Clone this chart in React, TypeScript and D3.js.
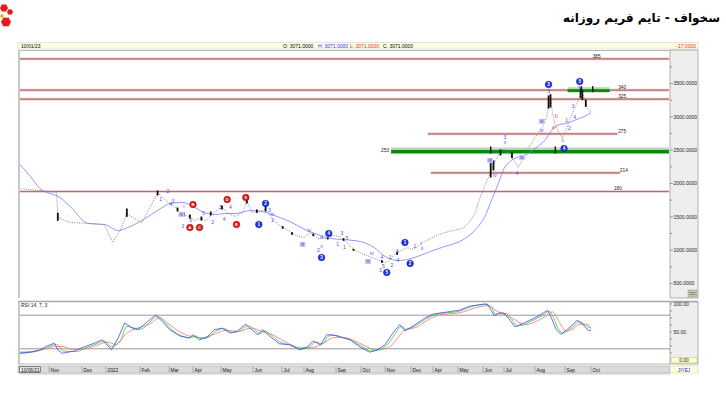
import React from "react";
import * as d3 from "d3";

const parse = d3.timeParse("%Y-%m-%d") as (s: string) => Date;

// trading calendar: month starts (Jan-Mar 2023 the symbol was halted)
const calendarDates = ["2021-10-06", "2021-11-01", "2021-12-01", "2022-01-01", "2022-02-01", "2022-03-01", "2022-04-01", "2022-05-01", "2022-06-01", "2022-07-01", "2022-08-01", "2022-09-01", "2022-10-01", "2022-11-01", "2022-12-01", "2023-04-01", "2023-05-01", "2023-06-01", "2023-07-01", "2023-08-01", "2023-09-01", "2023-10-01", "2024-01-01"];
const calendarX = [19, 49, 82, 106, 140, 169, 193, 221, 253, 282, 304, 336, 361, 385, 411, 433, 458, 483, 504, 535, 565, 591, 669];
const tickLabels = ["Nov", "Dec", "2022", "Feb", "Mar", "Apr", "May", "Jun", "Jul", "Aug", "Sep", "Oct", "Nov", "Dec", "Apr", "May", "Jun", "Jul", "Aug", "Sep", "Oct"];

const priceTicks = [500, 1000, 1500, 2000, 2500, 3000, 3500];
const rsiTicks = [0, 50, 100];
const rsiLevels = [20, 80];

const closes: [string, number][] = [
  ["2021-10-06", 1925], ["2021-10-24", 1895], ["2021-11-08", 1865], ["2021-11-09", 1490], ["2021-11-20", 1415],
  ["2021-12-11", 1400], ["2021-12-30", 1385], ["2022-01-07", 1115], ["2022-01-14", 1295], ["2022-01-20", 1550],
  ["2022-01-27", 1475], ["2022-02-03", 1415], ["2022-02-11", 1655], ["2022-02-18", 1865], ["2022-02-24", 1775],
  ["2022-03-02", 1700], ["2022-03-11", 1625], ["2022-03-19", 1535], ["2022-03-27", 1505], ["2022-04-03", 1445],
  ["2022-04-08", 1475], ["2022-04-15", 1445], ["2022-04-22", 1550], ["2022-05-02", 1640], ["2022-05-08", 1550],
  ["2022-05-15", 1505], ["2022-05-22", 1565], ["2022-05-26", 1745], ["2022-05-31", 1565], ["2022-06-07", 1580],
  ["2022-06-14", 1610], ["2022-06-20", 1490], ["2022-06-27", 1385], ["2022-07-08", 1310], ["2022-07-20", 1220],
  ["2022-08-01", 1190], ["2022-08-07", 1265], ["2022-08-14", 1175], ["2022-08-22", 1175], ["2022-08-29", 1220],
  ["2022-09-06", 1205], ["2022-09-15", 1100], ["2022-09-24", 995], ["2022-10-02", 950], ["2022-10-12", 905],
  ["2022-10-22", 860], ["2022-11-01", 815], ["2022-11-06", 845], ["2022-11-13", 950], ["2022-11-20", 995],
  ["2022-11-27", 1040], ["2022-12-01", 1010], ["2023-01-01", 1040], ["2023-02-04", 1115], ["2023-04-01", 1190],
  ["2023-04-08", 1235], ["2023-04-20", 1280], ["2023-05-06", 1325], ["2023-05-15", 1415], ["2023-05-22", 1550],
  ["2023-05-27", 1745], ["2023-06-03", 1955], ["2023-06-10", 2120], ["2023-06-13", 2225], ["2023-06-17", 2300],
  ["2023-06-24", 2450], ["2023-07-01", 2525], ["2023-07-07", 2420], ["2023-07-11", 2345], ["2023-07-15", 2240],
  ["2023-07-19", 2345], ["2023-07-24", 2495], ["2023-08-01", 2690], ["2023-08-08", 2825], ["2023-08-13", 2990],
  ["2023-08-16", 3245], ["2023-08-17", 3320], ["2023-08-19", 3065], ["2023-08-22", 2870], ["2023-08-26", 2765],
  ["2023-08-29", 2675], ["2023-09-03", 2825], ["2023-09-06", 2945], ["2023-09-11", 3095], ["2023-09-16", 3245],
  ["2023-09-20", 3395], ["2023-09-24", 3245], ["2023-09-27", 3125], ["2023-10-01", 3071],
];

const movingAvg: [string, number][] = [
  ["2021-10-06", 2300], ["2021-10-16", 2105], ["2021-10-24", 1925], ["2021-11-02", 1850], ["2021-11-09", 1810],
  ["2021-11-20", 1660], ["2021-12-09", 1400], ["2021-12-30", 1385], ["2022-01-12", 1295], ["2022-01-23", 1355],
  ["2022-02-06", 1475], ["2022-02-21", 1625], ["2022-03-02", 1700], ["2022-03-19", 1715], ["2022-04-03", 1640],
  ["2022-04-13", 1565], ["2022-04-25", 1535], ["2022-05-05", 1550], ["2022-05-15", 1550], ["2022-05-29", 1595],
  ["2022-06-10", 1580], ["2022-06-23", 1520], ["2022-07-12", 1430], ["2022-08-02", 1310], ["2022-08-14", 1235],
  ["2022-08-27", 1175], ["2022-09-08", 1160], ["2022-09-30", 1130], ["2022-10-16", 1055], ["2022-11-03", 890],
  ["2022-11-16", 845], ["2022-12-01", 875], ["2023-01-20", 920], ["2023-04-01", 995], ["2023-04-15", 1055],
  ["2023-05-03", 1130], ["2023-05-15", 1220], ["2023-05-25", 1340], ["2023-06-03", 1490], ["2023-06-13", 1745],
  ["2023-06-24", 2030], ["2023-07-01", 2225], ["2023-07-07", 2330], ["2023-07-14", 2390], ["2023-07-22", 2420],
  ["2023-08-01", 2525], ["2023-08-11", 2645], ["2023-08-19", 2810], ["2023-08-24", 2870], ["2023-09-06", 2915],
  ["2023-09-17", 2975], ["2023-09-26", 3020], ["2023-10-01", 3065],
];

// [date, high, low]
const candles: [string, number, number][] = [
  ["2021-11-09", 1560, 1440], ["2022-01-20", 1625, 1500], ["2022-02-18", 1895, 1820], ["2022-03-12", 1640, 1580],
  ["2022-03-20", 1570, 1505], ["2022-03-28", 1535, 1475], ["2022-04-10", 1505, 1445], ["2022-04-20", 1580, 1520],
  ["2022-05-02", 1670, 1610], ["2022-05-26", 1800, 1700], ["2022-06-05", 1610, 1560], ["2022-06-14", 1670, 1580],
  ["2022-07-02", 1360, 1320], ["2022-07-15", 1270, 1230], ["2022-08-10", 1250, 1210], ["2022-08-24", 1190, 1160],
  ["2022-09-10", 1180, 1140], ["2022-09-22", 1020, 990], ["2022-10-28", 850, 810], ["2022-11-15", 980, 930],
  ["2023-06-12", 2310, 2090], ["2023-06-16", 2345, 2195], ["2023-06-26", 2510, 2420], ["2023-07-09", 2470, 2380],
  ["2023-08-15", 3320, 3125], ["2023-08-17", 3340, 3140], ["2023-09-19", 3430, 3280], ["2023-09-21", 3400, 3250],
  ["2023-09-25", 3260, 3150],
];

const levelValues = [3870, 3400, 3265, 2745, 2160, 1880];
const levelLabels = ["385", "340", "325", "275", "214", "180"];
const levelStart = ["2021-10-06", "2021-10-06", "2021-10-06", "2023-03-04", "2023-03-20", "2021-10-06"];
const levelEnd = ["2024-01-01", "2024-01-01", "2024-01-01", "2023-11-01", "2023-11-04", "2024-01-01"];
const levelLabelDates = ["2023-10-03", "2023-11-02", "2023-11-02", "2023-11-02", "2023-11-04", "2023-10-28"];

// support / resistance zones: [low, high]
const zoneRanges: [number, number][] = [[2450, 2540], [3370, 3445]];
const zoneStart = ["2022-11-08", "2023-09-04"];
const zoneEnd = ["2024-01-01", "2023-10-23"];
const zoneLabels = ["250", ""];
const zoneMarks = [["2023-06-12", "2023-08-22"], ["2023-09-20", "2023-10-03"]];

const blueCircles: [string, number, string][] = [
  ["2022-06-07", 1385, "1"], ["2022-06-14", 1700, "2"], ["2022-08-18", 890, "3"], ["2022-08-25", 1250, "4"],
  ["2022-11-03", 665, "5"], ["2022-11-24", 1115, "1"], ["2022-11-30", 800, "2"], ["2023-08-15", 3485, "3"],
  ["2023-08-31", 2525, "4"], ["2023-09-18", 3530, "5"],
];
const redCircles: [string, number, string][] = [
  ["2022-03-28", 1340, "A"], ["2022-04-01", 1685, "B"], ["2022-04-08", 1340, "C"], ["2022-05-07", 1760, "D"],
  ["2022-05-16", 1385, "E"], ["2022-05-25", 1790, "X"],
];
const waveLabels: [string, number, string][] = [
  ["2022-02-28", 1880, "2"], ["2022-02-21", 1760, "1"], ["2022-03-03", 1685, "4"], ["2022-03-06", 1730, "3"],
  ["2022-03-20", 1655, "i"], ["2022-03-19", 1355, "3"], ["2022-03-29", 1445, "5"], ["2022-04-12", 1550, "5"],
  ["2022-04-22", 1415, "2"], ["2022-04-30", 1640, "3"], ["2022-05-10", 1650, "4"], ["2022-05-04", 1460, "4"],
  ["2022-06-18", 1595, "3"], ["2022-06-21", 1535, "iv"], ["2022-06-21", 1445, "1"], ["2022-08-06", 1295, "iv"],
  ["2022-08-18", 1190, "4"], ["2022-08-18", 1055, "v"], ["2022-08-15", 995, "2"], ["2022-09-08", 1250, "3"],
  ["2022-09-03", 1085, "1"], ["2022-09-14", 1175, "5"], ["2022-09-11", 1040, "1"], ["2022-10-15", 950, "iv"],
  ["2022-10-26", 695, "3"], ["2022-10-28", 890, "4"], ["2022-10-30", 760, "5"], ["2022-11-07", 890, "1"],
  ["2022-11-09", 770, "2"], ["2022-11-15", 980, "3"], ["2022-11-16", 845, "4"], ["2022-12-23", 1055, "1"],
  ["2023-01-25", 1100, "i"], ["2023-01-31", 1025, "ii"], ["2023-06-18", 2120, "iv"], ["2023-07-02", 2690, "3"],
  ["2023-07-02", 2615, "v"], ["2023-07-14", 2150, "4"], ["2023-08-08", 2795, "iv"], ["2023-08-15", 3380, "3"],
  ["2023-09-03", 2945, "1"], ["2023-09-06", 2825, "2"], ["2023-09-10", 3155, "3"], ["2023-09-12", 2990, "4"],
  ["2023-09-18", 3425, "5"],
];
const boxedLabels: [string, number, string][] = [
  ["2022-03-17", 1535, "iii"], ["2022-07-30", 1085, "iii"], ["2022-10-10", 830, "iii"], ["2023-06-11", 2345, "iii"],
  ["2023-07-19", 2390, "iv"], ["2023-08-08", 2930, "iii"],
];
const redLetters: [string, number, string][] = [
  ["2023-08-20", 2840, "a"], ["2023-08-23", 3005, "b"], ["2023-08-30", 2645, "c"],
];

const rsiMain: [string, number][] = [
  ["2021-10-06", 12], ["2021-10-16", 14], ["2021-10-24", 18], ["2021-10-30", 25], ["2021-11-06", 30], ["2021-11-09", 18],
  ["2021-11-13", 12], ["2021-11-24", 16], ["2021-12-03", 23], ["2021-12-17", 30], ["2021-12-27", 36], ["2022-01-02", 27],
  ["2022-01-06", 18], ["2022-01-12", 39], ["2022-01-18", 66], ["2022-01-25", 57], ["2022-01-30", 54], ["2022-02-08", 68],
  ["2022-02-16", 80], ["2022-02-23", 68], ["2022-03-02", 54], ["2022-03-15", 43], ["2022-03-27", 39], ["2022-04-01", 45],
  ["2022-04-08", 36], ["2022-04-16", 41], ["2022-04-24", 54], ["2022-05-02", 57], ["2022-05-10", 48], ["2022-05-17", 52],
  ["2022-05-25", 64], ["2022-05-29", 57], ["2022-06-06", 45], ["2022-06-11", 54], ["2022-06-16", 46], ["2022-06-28", 29],
  ["2022-07-12", 27], ["2022-07-26", 18], ["2022-08-04", 23], ["2022-08-10", 34], ["2022-08-17", 27], ["2022-08-23", 45],
  ["2022-08-29", 45], ["2022-09-06", 41], ["2022-09-18", 36], ["2022-09-30", 23], ["2022-10-12", 14], ["2022-10-22", 18],
  ["2022-11-01", 27], ["2022-11-10", 48], ["2022-11-18", 63], ["2022-11-24", 52], ["2022-12-23", 63], ["2023-02-16", 75],
  ["2023-04-01", 82], ["2023-05-03", 89], ["2023-05-15", 96], ["2023-06-03", 100], ["2023-06-07", 100], ["2023-06-13", 88],
  ["2023-06-17", 79], ["2023-06-24", 84], ["2023-07-01", 84], ["2023-07-07", 71], ["2023-07-12", 59], ["2023-07-17", 63],
  ["2023-07-27", 71], ["2023-08-06", 80], ["2023-08-14", 89], ["2023-08-18", 75], ["2023-08-23", 54], ["2023-08-28", 46],
  ["2023-09-03", 54], ["2023-09-10", 63], ["2023-09-15", 71], ["2023-09-22", 63], ["2023-09-27", 54], ["2023-10-01", 52],
];
const rsiSignal7: [string, number][] = [
  ["2021-10-06", 12], ["2021-10-20", 15], ["2021-10-30", 22], ["2021-11-08", 28], ["2021-11-14", 16], ["2021-11-26", 15],
  ["2021-12-06", 22], ["2021-12-20", 29], ["2021-12-30", 34], ["2022-01-06", 24], ["2022-01-14", 34], ["2022-01-20", 60],
  ["2022-01-27", 57], ["2022-02-02", 55], ["2022-02-10", 67], ["2022-02-18", 78], ["2022-02-25", 67], ["2022-03-04", 55],
  ["2022-03-17", 43], ["2022-03-29", 40], ["2022-04-03", 43], ["2022-04-10", 38], ["2022-04-18", 41], ["2022-04-26", 52],
  ["2022-05-04", 56], ["2022-05-12", 49], ["2022-05-19", 52], ["2022-05-27", 61], ["2022-06-01", 57], ["2022-06-08", 47],
  ["2022-06-13", 52], ["2022-06-18", 47], ["2022-06-30", 31], ["2022-07-14", 27], ["2022-07-28", 20], ["2022-08-06", 23],
  ["2022-08-12", 32], ["2022-08-19", 29], ["2022-08-25", 43], ["2022-08-31", 44], ["2022-09-08", 41], ["2022-09-20", 35],
  ["2022-10-02", 24], ["2022-10-14", 16], ["2022-10-24", 18], ["2022-11-03", 26], ["2022-11-12", 45], ["2022-11-20", 60],
  ["2022-11-26", 54], ["2022-12-25", 61], ["2023-02-20", 73], ["2023-04-03", 81], ["2023-05-05", 88], ["2023-05-17", 95],
  ["2023-06-05", 99], ["2023-06-12", 96], ["2023-06-19", 82], ["2023-06-26", 83], ["2023-07-03", 83], ["2023-07-09", 72],
  ["2023-07-14", 61], ["2023-07-19", 62], ["2023-07-29", 70], ["2023-08-08", 79], ["2023-08-16", 87], ["2023-08-20", 76],
  ["2023-08-25", 56], ["2023-08-30", 48], ["2023-09-05", 53], ["2023-09-12", 62], ["2023-09-17", 69], ["2023-09-24", 63],
  ["2023-10-01", 56],
];
const rsiSignal3: [string, number][] = [
  ["2021-10-06", 14], ["2021-10-24", 17], ["2021-11-06", 24], ["2021-11-14", 24], ["2021-11-22", 19], ["2021-12-05", 20],
  ["2021-12-20", 26], ["2022-01-02", 32], ["2022-01-10", 28], ["2022-01-20", 48], ["2022-01-30", 57], ["2022-02-10", 64],
  ["2022-02-20", 75], ["2022-03-01", 64], ["2022-03-15", 50], ["2022-03-30", 42], ["2022-04-12", 40], ["2022-04-25", 47],
  ["2022-05-06", 53], ["2022-05-18", 51], ["2022-05-30", 57], ["2022-06-10", 51], ["2022-06-20", 46], ["2022-07-05", 33],
  ["2022-07-25", 22], ["2022-08-08", 22], ["2022-08-20", 30], ["2022-08-30", 40], ["2022-09-10", 40], ["2022-09-22", 35],
  ["2022-10-05", 26], ["2022-10-20", 18], ["2022-11-05", 22], ["2022-11-15", 38], ["2022-11-25", 55], ["2022-12-28", 58],
  ["2023-02-25", 70], ["2023-04-05", 79], ["2023-05-08", 86], ["2023-05-20", 92], ["2023-06-08", 97], ["2023-06-20", 88],
  ["2023-06-30", 82], ["2023-07-12", 72], ["2023-07-22", 63], ["2023-08-01", 68], ["2023-08-12", 78], ["2023-08-19", 86],
  ["2023-08-26", 68], ["2023-09-02", 52], ["2023-09-10", 55], ["2023-09-18", 64], ["2023-09-25", 64], ["2023-10-01", 58],
];

const FONT = "Liberation Sans, Arial, sans-serif";

export default function App() {
  const x = d3.scaleTime().domain(calendarDates.map(parse)).range(calendarX);
  const y = d3.scaleLinear().domain([500, 3500]).range([283.5, 83.5]);
  const yr = d3.scaleLinear().domain([0, 100]).range([360, 304]);
  const xd = (s: string) => x(parse(s));

  const priceLine = d3.line<[string, number]>().x((d) => xd(d[0])).y((d) => y(d[1]));
  const maLine = d3.line<[string, number]>().x((d) => xd(d[0])).y((d) => y(d[1])).curve(d3.curveMonotoneX);
  const rsiLine = d3.line<[string, number]>().x((d) => xd(d[0])).y((d) => yr(d[1]));
  const rsiSmooth = d3.line<[string, number]>().x((d) => xd(d[0])).y((d) => yr(d[1])).curve(d3.curveMonotoneX);

  const minorTicks = d3.range(500, 3751, 250);
  const tickDates = calendarDates.slice(1, 22);

  const hex = (cx: number, cy: number, r: number) =>
    d3.range(6).map((i) => {
      const a = (Math.PI / 3) * i;
      return `${cx + r * Math.cos(a)},${cy + r * Math.sin(a)}`;
    }).join(" ");

  return (
    <div style={{ position: "fixed", left: 0, top: 0 }}>
      <svg width={726} height={398} style={{ display: "block", background: "#fff" }} fontFamily={FONT}>
        <defs>
          <clipPath id="mainClip"><rect x={20} y={51} width={650} height={247} /></clipPath>
          <clipPath id="rsiClip"><rect x={20} y={302} width={650} height={62} /></clipPath>
        </defs>

        {/* logo */}
        <g>
          <polygon points={hex(4, 8, 4.5)} fill="#e41b1b" stroke="#fff" strokeWidth={0.8} />
          <polygon points={hex(10, 12, 3.5)} fill="#e41b1b" stroke="#fff" strokeWidth={0.8} />
          <polygon points={hex(6, 22, 5.5)} fill="#e41b1b" stroke="#fff" strokeWidth={0.8} />
          <circle cx={2} cy={16} r={1.8} fill="#f5a623" />
        </g>
        <text x={720} y={22} textAnchor="end" fontSize={12} fontWeight="bold" fontFamily="DejaVu Sans, sans-serif">
          سخواف - تایم فریم روزانه
        </text>

        {/* info bar */}
        <rect x={18} y={42.5} width={680} height={6.5} fill="#ffffe4" stroke="#c8c8c8" strokeWidth={0.5} />
        <g fontSize={5}>
          <text x={21} y={47.6}>10/01/23</text>
          <text x={283} y={47.6}>O: 3071.0000</text>
          <text x={318} y={47.6} fill="#3030ff">H: 3071.0000</text>
          <text x={350} y={47.6} fill="#ff2020">L: 3071.0000</text>
          <text x={383} y={47.6}>C: 3071.0000</text>
          <text x={696} y={47.6} fill="#ff2020" textAnchor="end">-17.0000</text>
        </g>

        {/* main panel frame */}
        <line x1={18} x2={670} y1={50.5} y2={50.5} stroke="#b8b8b8" strokeWidth={1} />
        <rect x={18} y={50} width={2} height={248} fill="#c8c8c8" />
        <rect x={670} y={50} width={28} height={248} fill="#eeeeee" stroke="#a0a0a0" strokeWidth={0.8} />
        {minorTicks.map((v) => (
          <line key={"mt" + v} x1={670} x2={v % 500 === 0 ? 673 : 672} y1={y(v)} y2={y(v)} stroke="#606060" strokeWidth={0.6} />
        ))}
        {priceTicks.map((v) => (
          <text key={"pt" + v} x={673.5} y={y(v) + 1.8} fontSize={5} fill="#222">{v.toFixed(4)}</text>
        ))}
        <rect x={688} y={290} width={9} height={7} fill="#c8c8b0" stroke="#909080" strokeWidth={0.5} />
        <line x1={689.5} x2={695.5} y1={292.5} y2={292.5} stroke="#555" strokeWidth={0.6} />
        <line x1={689.5} x2={695.5} y1={294.5} y2={294.5} stroke="#555" strokeWidth={0.6} />

        <g clipPath="url(#mainClip)">
          {/* levels */}
          {levelValues.map((v, i) => (
            <g key={"l" + i}>
              <line x1={xd(levelStart[i])} x2={xd(levelEnd[i])} y1={y(v)} y2={y(v)} stroke="#e8c8c8" strokeWidth={2.6} />
              <line x1={xd(levelStart[i])} x2={xd(levelEnd[i])} y1={y(v)} y2={y(v)} stroke="#b86a6a" strokeWidth={1.2} />
            </g>
          ))}
          {/* zones */}
          {zoneRanges.map((r, i) => {
            const x0 = xd(zoneStart[i]);
            const x1 = xd(zoneEnd[i]);
            const mid = y((r[0] + r[1]) / 2 + (r[1] - r[0]) * 0.1);
            return (
              <g key={"z" + i}>
                <rect x={x0} y={y(r[1])} width={x1 - x0} height={mid - y(r[1])} fill="#b6dcb6" />
                <rect x={x0} y={mid} width={x1 - x0} height={y(r[0]) - mid} fill="#0a8a0a" />
                {zoneMarks[i].map((d) => (
                  <rect key={d} x={xd(d) - 0.7} y={y(r[1]) - 1} width={1.4} height={y(r[0]) - y(r[1]) + 1} fill="#111" />
                ))}
              </g>
            );
          })}

          {/* price */}
          <path d={maLine(movingAvg) || ""} fill="none" stroke="#7a7aff" strokeWidth={0.8} />
          <path d={priceLine(closes) || ""} fill="none" stroke="#8a8a8a" strokeWidth={1} strokeDasharray="1,1.3" />
          {candles.map((c, i) => (
            <rect key={"c" + i} x={xd(c[0]) - 0.9} y={y(c[1])} width={1.8} height={y(c[2]) - y(c[1])} fill="#111" />
          ))}

          {/* wave counts */}
          {waveLabels.map((w, i) => (
            <text key={"w" + i} x={xd(w[0])} y={y(w[1]) + 1.8} fontSize={5} fill="#4a4aff" textAnchor="middle">{w[2]}</text>
          ))}
          {boxedLabels.map((w, i) => (
            <g key={"b" + i}>
              <rect x={xd(w[0]) - 3} y={y(w[1]) - 2.5} width={6} height={5} fill="#c9c9ff" />
              <text x={xd(w[0])} y={y(w[1]) + 1.8} fontSize={4.6} fill="#3a3ad8" textAnchor="middle">{w[2]}</text>
            </g>
          ))}
          {redLetters.map((w, i) => (
            <text key={"r" + i} x={xd(w[0])} y={y(w[1]) + 1.8} fontSize={5} fill="#ff3a3a" textAnchor="middle">{w[2]}</text>
          ))}
          {blueCircles.map((w, i) => (
            <g key={"bc" + i}>
              <circle cx={xd(w[0])} cy={y(w[1])} r={3.3} fill="#1c34e0" stroke="#0a1a90" strokeWidth={0.5} />
              <text x={xd(w[0])} y={y(w[1]) + 1.7} fontSize={4.6} fontWeight="bold" fill="#fff" textAnchor="middle">{w[2]}</text>
            </g>
          ))}
          {redCircles.map((w, i) => (
            <g key={"rc" + i}>
              <circle cx={xd(w[0])} cy={y(w[1])} r={3.3} fill="#e81010" stroke="#900" strokeWidth={0.5} />
              <text x={xd(w[0])} y={y(w[1]) + 1.7} fontSize={4.4} fontWeight="bold" fill="#fff" textAnchor="middle">{w[2]}</text>
            </g>
          ))}
        </g>

        {/* level labels (drawn over the lines) */}
        {levelValues.map((v, i) => (
          <text key={"ll" + i} x={xd(levelLabelDates[i])} y={y(v) - 1.2} fontSize={4.8} fill="#222">{levelLabels[i]}</text>
        ))}
        {zoneRanges.map((r, i) =>
          zoneLabels[i] ? (
            <text key={"zl" + i} x={xd(zoneStart[i]) - 2} y={y((r[0] + r[1]) / 2) + 1.7} fontSize={4.8} fill="#222" textAnchor="end">{zoneLabels[i]}</text>
          ) : null
        )}

        {/* RSI panel */}
        <line x1={18} x2={698} y1={301.5} y2={301.5} stroke="#a8a8a8" strokeWidth={1.4} />
        <rect x={18} y={302} width={2} height={62} fill="#c8c8c8" />
        <line x1={18} x2={670} y1={364} y2={364} stroke="#b8b8b8" strokeWidth={1} />
        <text x={21} y={306.5} fontSize={5} fill="#222">RSI 14, 7, 3</text>
        <rect x={670} y={302} width={28} height={62} fill="#eeeeee" stroke="#a0a0a0" strokeWidth={0.8} />
        {d3.range(0, 101, 12.5).map((v) => (
          <line key={"rm" + v} x1={670} x2={672} y1={yr(v)} y2={yr(v)} stroke="#606060" strokeWidth={0.6} />
        ))}
        {rsiTicks.filter((v) => v > 0).map((v) => (
          <text key={"rt" + v} x={673.5} y={yr(v) + 1.8} fontSize={5} fill="#222">{v.toFixed(2)}</text>
        ))}
        <rect x={671} y={357.5} width={26} height={5.5} fill="#ffffc8" stroke="#b8b890" strokeWidth={0.5} />
        <text x={684} y={362} fontSize={5} textAnchor="middle" fill="#222">{rsiTicks[0].toFixed(2)}</text>

        <g clipPath="url(#rsiClip)">
          {rsiLevels.map((v) => (
            <line key={"rl" + v} x1={20} x2={670} y1={yr(v)} y2={yr(v)} stroke="#8c8c8c" strokeWidth={0.9} />
          ))}
          <path d={rsiSmooth(rsiSignal3) || ""} fill="none" stroke="#ff7070" strokeWidth={0.8} />
          <path d={rsiSmooth(rsiSignal7) || ""} fill="none" stroke="#3cc83c" strokeWidth={0.8} />
          <path d={rsiLine(rsiMain) || ""} fill="none" stroke="#4646ff" strokeWidth={0.8} />
        </g>

        {/* date axis */}
        <rect x={18} y={366} width={652} height={7} fill="#dcdcdc" stroke="#a8a8a8" strokeWidth={0.6} />
        <line x1={20} x2={670} y1={374} y2={374} stroke="#c8c8c8" strokeWidth={1} />
        <rect x={19.5} y={366.8} width={21} height={5.6} fill="#e8e8e8" stroke="#222" strokeWidth={0.5} />
        <text x={21} y={371.6} fontSize={4.8} fill="#111">10/06/21</text>
        {tickDates.map((d, i) => (
          <g key={"t" + d}>
            <line x1={xd(d)} x2={xd(d)} y1={366.5} y2={372.5} stroke="#8a8a8a" strokeWidth={0.6} />
            <text x={xd(d) + 1.5} y={371.6} fontSize={4.8} fill="#111">{tickLabels[i]}</text>
          </g>
        ))}
        <rect x={670} y={366} width={28} height={7} fill="#ffffe0" stroke="#c8c8a8" strokeWidth={0.5} />
        <text x={684} y={371.6} fontSize={4.8} fill="#2020e0" textAnchor="middle">JIYEJ</text>
      </svg>
    </div>
  );
}
